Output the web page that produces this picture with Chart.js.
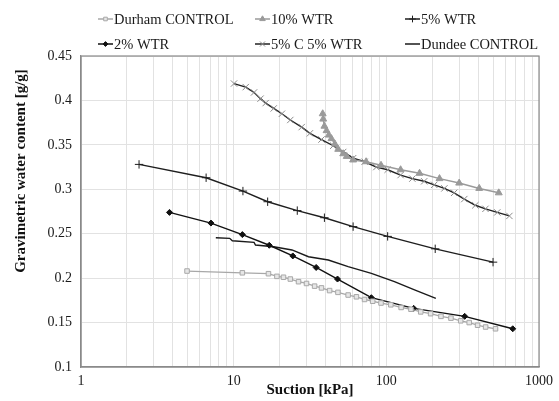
<!DOCTYPE html>
<html>
<head>
<meta charset="utf-8">
<script src="https://cdn.jsdelivr.net/npm/chart.js@4.4.0/dist/chart.umd.min.js"></script>
<style>
  html, body { margin: 0; padding: 0; background: #fff; }
  #wrap { width: 559px; height: 401px; }
</style>
</head>
<body>
<div id="wrap"><canvas id="swcc"></canvas></div>
<script>
// Suction values [kPa] and water contents [g/g]
const durhamX = [4.95, 11.4, 16.9, 19.2, 21.2, 23.5, 26.6, 30.0, 33.9, 37.6, 42.5, 48.2, 56.2, 63.7, 72.0, 81.4, 92.3, 107, 125, 145, 168, 195, 228, 265, 307, 349, 396, 447, 519];
const durhamY = [0.208, 0.206, 0.205, 0.202, 0.201, 0.199, 0.196, 0.194, 0.191, 0.189, 0.186, 0.184, 0.181, 0.179, 0.176, 0.174, 0.172, 0.170, 0.167, 0.165, 0.162, 0.160, 0.157, 0.155, 0.152, 0.150, 0.147, 0.145, 0.143];

const wtr10X = [38.3, 38.6, 39.3, 40.6, 42.0, 43.7, 46.0, 48.4, 52.2, 55, 60.6, 73.7, 92.3, 124, 165, 223, 300, 406, 545];
const wtr10Y = [0.385, 0.379, 0.371, 0.366, 0.361, 0.357, 0.351, 0.345, 0.340, 0.337, 0.333, 0.331, 0.327, 0.322, 0.318, 0.312, 0.307, 0.301, 0.296];

const wtr5X = [2.4, 6.6, 11.5, 16.7, 26.1, 39.3, 60.6, 102, 209, 500];
const wtr5Y = [0.328, 0.313, 0.298, 0.286, 0.276, 0.268, 0.258, 0.247, 0.233, 0.218];

const wtr2X = [3.8, 7.1, 11.4, 17.1, 24.4, 34.7, 47.9, 79.8, 151, 326, 673];
const wtr2Y = [0.274, 0.262, 0.249, 0.237, 0.225, 0.212, 0.199, 0.178, 0.166, 0.157, 0.143];

const c5wtr5X = [10.05, 12.0, 13.6, 15.0, 16.2, 18.3, 20.7, 23.5, 27.9, 31.6, 37.6, 44.9, 52.2, 60.6, 72.1, 86, 102, 124, 148, 177, 206, 240, 278, 324, 383, 446, 533, 640];
const c5wtr5Y = [0.419, 0.415, 0.409, 0.402, 0.397, 0.391, 0.385, 0.378, 0.370, 0.363, 0.356, 0.349, 0.342, 0.335, 0.331, 0.325, 0.322, 0.316, 0.312, 0.309, 0.305, 0.301, 0.296, 0.289, 0.282, 0.278, 0.274, 0.270];

const dundeeX = [7.64, 9.42, 9.8, 13.6, 13.9, 18.3, 24.1, 30.9, 41.7, 56.2, 79.8, 113, 153, 211];
const dundeeY = [0.2455, 0.2448, 0.242, 0.2403, 0.2373, 0.2354, 0.2317, 0.2241, 0.2204, 0.2129, 0.2054, 0.196, 0.1867, 0.1773];

// x axis ticks (log, every integer multiple per decade), y axis range
const suctionTicks = [];
for (let d = 1; d < 1000; d *= 10) {
    for (let m = 1; m < 10; m++) suctionTicks.push(m * d);
}
suctionTicks.push(1000);
const yMin = 0.1, yMax = 0.45, yStep = 0.05;

const serif = "'Liberation Serif', 'Times New Roman', serif";

function pts(xs, ys) {
    return xs.map((x, i) => ({ x: x, y: ys[i] }));
}

// Legend laid out in two rows of three columns, like the Excel figure
const legendSlots = [
    { ds: 0, x: 98, y: 19 },
    { ds: 1, x: 255, y: 19 },
    { ds: 2, x: 405, y: 19 },
    { ds: 3, x: 98, y: 44 },
    { ds: 4, x: 255, y: 44 },
    { ds: 5, x: 405, y: 44 }
];

const extras = {
    id: 'extras',
    afterDraw(chart) {
        const ctx = chart.ctx;
        const a = chart.chartArea;
        ctx.save();
        // box around plot
        ctx.strokeStyle = '#8a8a8a';
        ctx.lineWidth = 1.2;
        ctx.strokeRect(a.left, a.top, a.right - a.left, a.bottom - a.top);

        // y title, placed a bit above centre as in the figure
        ctx.fillStyle = '#111';
        ctx.font = "bold 15px " + serif;
        ctx.textAlign = 'center';
        ctx.textBaseline = 'middle';
        ctx.translate(21, 171);
        ctx.rotate(-Math.PI / 2);
        ctx.fillText('Gravimetric water content [g/g]', 0, 0);
        ctx.restore();

        // legend
        ctx.save();
        ctx.font = "14.5px " + serif;
        ctx.textBaseline = 'middle';
        ctx.textAlign = 'left';
        legendSlots.forEach(s => {
            const ds = chart.data.datasets[s.ds];
            ctx.strokeStyle = ds.borderColor;
            ctx.lineWidth = 1.5;
            ctx.beginPath();
            ctx.moveTo(s.x, s.y);
            ctx.lineTo(s.x + 15, s.y);
            ctx.stroke();
            if (ds.pointRadius > 0 && Chart.helpers && Chart.helpers.drawPoint) {
                ctx.fillStyle = ds.pointBackgroundColor;
                ctx.strokeStyle = ds.pointBorderColor;
                ctx.lineWidth = ds.pointBorderWidth;
                Chart.helpers.drawPoint(ctx, {
                    pointStyle: ds.pointStyle,
                    radius: ds.pointRadius * 0.8,
                    rotation: 0,
                    borderWidth: ds.pointBorderWidth
                }, s.x + 7.5, s.y);
            }
            ctx.fillStyle = '#1a1a1a';
            ctx.fillText(ds.label, s.x + 16, s.y + 1);
        });
        ctx.restore();
    }
};

new Chart(document.getElementById('swcc'), {
    type: 'line',
    data: {
        datasets: [
            {
                label: 'Durham CONTROL',
                data: pts(durhamX, durhamY),
                borderColor: '#a8a8a8',
                borderWidth: 1.3,
                pointStyle: 'rect',
                pointRadius: 3.2,
                pointBackgroundColor: '#e6e6e6',
                pointBorderColor: '#a8a8a8',
                pointBorderWidth: 1
            },
            {
                label: '10% WTR',
                data: pts(wtr10X, wtr10Y),
                borderColor: '#9a9a9a',
                borderWidth: 1.5,
                pointStyle: 'triangle',
                pointRadius: 4,
                pointBackgroundColor: '#9a9a9a',
                pointBorderColor: '#9a9a9a',
                pointBorderWidth: 1
            },
            {
                label: '5% WTR',
                data: pts(wtr5X, wtr5Y),
                borderColor: '#1e1e1e',
                borderWidth: 1.4,
                pointStyle: 'cross',
                pointRadius: 4.2,
                pointBackgroundColor: '#1e1e1e',
                pointBorderColor: '#1e1e1e',
                pointBorderWidth: 1
            },
            {
                label: '2% WTR',
                data: pts(wtr2X, wtr2Y),
                borderColor: '#111',
                borderWidth: 1.4,
                pointStyle: 'rectRot',
                pointRadius: 3,
                pointBackgroundColor: '#111',
                pointBorderColor: '#111',
                pointBorderWidth: 1
            },
            {
                label: '5% C 5% WTR',
                data: pts(c5wtr5X, c5wtr5Y),
                borderColor: '#222',
                borderWidth: 1.4,
                pointStyle: 'crossRot',
                pointRadius: 4.5,
                pointBackgroundColor: '#8c8c8c',
                pointBorderColor: '#8c8c8c',
                pointBorderWidth: 1
            },
            {
                label: 'Dundee CONTROL',
                data: pts(dundeeX, dundeeY),
                borderColor: '#1a1a1a',
                borderWidth: 1.4,
                pointRadius: 0,
                pointBorderWidth: 0
            }
        ]
    },
    options: {
        responsive: true,
        maintainAspectRatio: false,
        animation: false,
        layout: { padding: { top: 56, right: 17, left: 0, bottom: 0 } },
        plugins: {
            legend: { display: false },
            tooltip: { enabled: false }
        },
        elements: { line: { tension: 0 } },
        scales: {
            x: {
                type: 'logarithmic',
                min: 1,
                max: 1000,
                afterBuildTicks: (scale) => {
                    scale.ticks = suctionTicks.map(v => ({ value: v }));
                },
                afterFit: (scale) => { scale.height = 34; },
                ticks: {
                    autoSkip: false,
                    maxRotation: 0,
                    padding: 6,
                    color: '#1a1a1a',
                    font: { family: serif, size: 14 },
                    callback: (v) => {
                        const l = Math.log10(v);
                        return Math.abs(l - Math.round(l)) < 1e-9 ? String(v) : '';
                    }
                },
                grid: { color: '#e2e2e2', lineWidth: 1, drawTicks: false },
                border: { color: '#8a8a8a', width: 1.2 },
                title: {
                    display: true,
                    text: 'Suction [kPa]',
                    color: '#111',
                    font: { family: serif, size: 15, weight: 'bold' },
                    padding: { top: 0, bottom: 2 }
                }
            },
            y: {
                min: yMin,
                max: yMax,
                afterFit: (scale) => { scale.width = 81; },
                ticks: {
                    stepSize: yStep,
                    padding: 9,
                    color: '#1a1a1a',
                    font: { family: serif, size: 14 },
                    callback: (v) => String(Number(v.toFixed(2)))
                },
                grid: { color: '#e2e2e2', lineWidth: 1, drawTicks: false },
                border: { color: '#8a8a8a', width: 1.2 }
            }
        }
    },
    plugins: [extras]
});
</script>
</body>
</html>
